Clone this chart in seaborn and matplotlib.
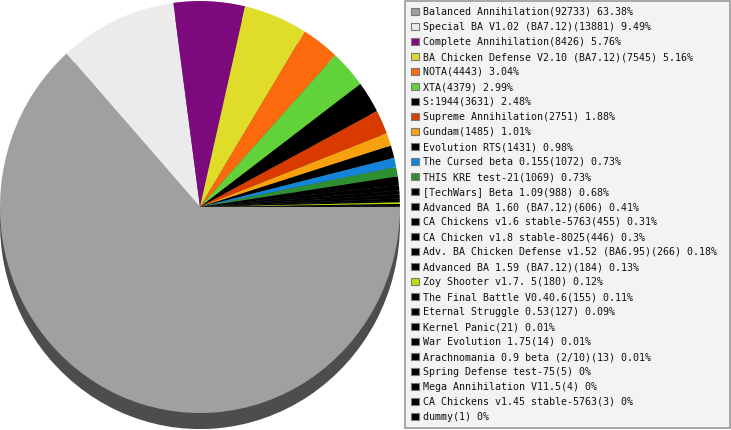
import matplotlib
matplotlib.use("Agg")
import matplotlib.pyplot as plt
from matplotlib.patches import Patch
import seaborn as sns

# mod usage counts
mods = [
    "Balanced Annihilation", "Special BA V1.02 (BA7.12)", "Complete Annihilation",
    "BA Chicken Defense V2.10 (BA7.12)", "NOTA", "XTA", "S:1944", "Supreme Annihilation",
    "Gundam", "Evolution RTS", "The Cursed beta 0.155", "THIS KRE test-21",
    "[TechWars] Beta 1.09", "Advanced BA 1.60 (BA7.12)", "CA Chickens v1.6 stable-5763",
    "CA Chicken v1.8 stable-8025", "Adv. BA Chicken Defense v1.52 (BA6.95)",
    "Advanced BA 1.59 (BA7.12)", "Zoy Shooter v1.7. 5", "The Final Battle V0.40.6",
    "Eternal Struggle 0.53", "Kernel Panic", "War Evolution 1.75",
    "Arachnomania 0.9 beta (2/10)", "Spring Defense test-75", "Mega Annihilation V11.5",
    "CA Chickens v1.45 stable-5763", "dummy",
]
counts = [92733, 13881, 8426, 7545, 4443, 4379, 3631, 2751, 1485, 1431, 1072, 1069,
          988, 606, 455, 446, 266, 184, 180, 155, 127, 21, 14, 13, 5, 4, 3, 1]
colors = ["#a0a0a0", "#ebebeb", "#7d0a7d", "#e0dc2a", "#fd6a0e", "#62d23a", "#000000",
          "#d93a00", "#f8a10e", "#000000", "#1484d8", "#2e8f30", "#000000", "#000000",
          "#000000", "#000000", "#000000", "#000000", "#b8e000", "#000000", "#000000",
          "#000000", "#000000", "#000000", "#000000", "#000000", "#000000", "#000000"]

sns.set_style("white")
plt.rcParams["font.family"] = ["DejaVu Sans Mono"]

fig = plt.figure(figsize=(7.31, 4.30), dpi=100)
ax = fig.add_axes([0, 17 / 430, 400 / 731, 412 / 430])

# shadow underneath, then the pie itself
ax.pie(counts, colors=["#4d4d4d"] * len(counts), startangle=0, counterclock=False,
       center=(0, -0.078), wedgeprops=dict(linewidth=0))
wedges, _ = ax.pie(counts, colors=colors, startangle=0, counterclock=False,
                   wedgeprops=dict(linewidth=0, antialiased=True))
ax.set_aspect("auto")
ax.set_xlim(-1, 1)
ax.set_ylim(-1, 1)
ax.axis("off")

total = sum(counts)
labels = [f"{m}({c}) {round(c / total * 100, 2):g}%" for m, c in zip(mods, counts)]
handles = [Patch(facecolor=c, edgecolor="#7a7a7a", linewidth=0.8) for c in colors]

leg = fig.legend(handles, labels, loc="upper left",
                 bbox_to_anchor=(405 / 731, 0, 325 / 731, 1 - 1 / 430), mode="expand",
                 prop=dict(family="DejaVu Sans Mono", size=7.2),
                 handlelength=0.8, handleheight=0.8, handletextpad=0.4,
                 labelspacing=0.5, borderpad=0.6, borderaxespad=0,
                 frameon=True, fancybox=False, edgecolor="#999999",
                 facecolor="#f3f3f3", framealpha=1)
leg.get_frame().set_linewidth(1.2)
for t in leg.get_texts():
    t.set_color("#111111")

fig.savefig("out.png", dpi=100)
